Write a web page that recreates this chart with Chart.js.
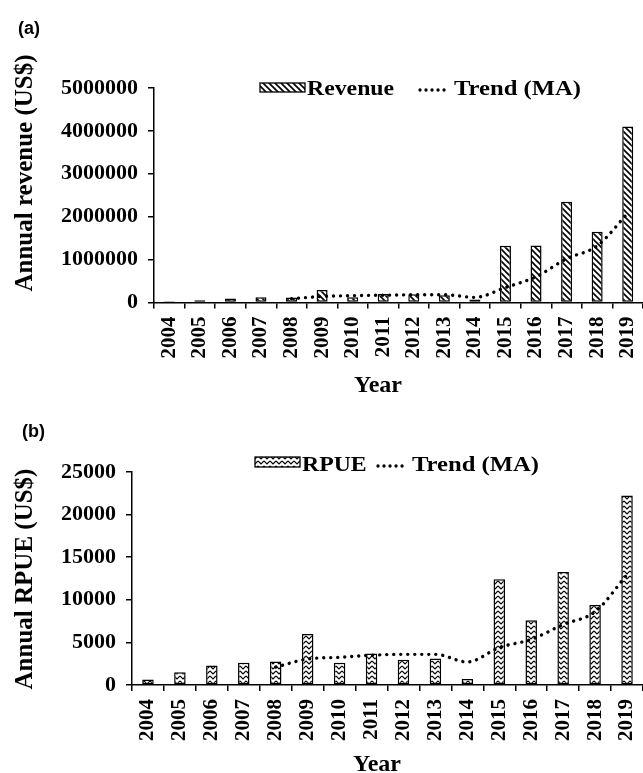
<!DOCTYPE html>
<html>
<head>
<meta charset="utf-8">
<script src="https://cdn.jsdelivr.net/npm/chart.js@4.4.1/dist/chart.umd.min.js"></script>
<style>
  html, body { margin: 0; padding: 0; background: #fff; overflow: hidden; }
  #wrap { position: relative; width: 643px; height: 773px; background: #fff; }
  .panel { position: absolute; left: 0; width: 643px; }
  .tag { position: absolute; font-family: 'Liberation Sans', Arial, sans-serif; font-weight: bold; font-size: 18px; color: #000; }
</style>
</head>
<body>
<div id="wrap">
  <div class="panel" style="top:0;height:395px;"><canvas id="chartA" width="643" height="395"></canvas></div>
  <div class="panel" style="top:395px;height:378px;"><canvas id="chartB" width="643" height="378"></canvas></div>
  <div class="tag" style="left:18px;top:18px;">(a)</div>
  <div class="tag" style="left:22px;top:421px;">(b)</div>
</div>
<script>
// ---------------- DATA ----------------
const years = ['2004','2005','2006','2007','2008','2009','2010','2011','2012','2013','2014','2015','2016','2017','2018','2019'];
const revenue = [30000, 55000, 95000, 125000, 118000, 290000, 120000, 200000, 190000, 170000, 70000, 1320000, 1330000, 2350000, 1650000, 4100000];
const revenueTrend = [null, null, null, null, 90000, 140000, 160000, 170000, 180000, 180000, 120000, 350000, 600000, 1020000, 1320000, 2080000];
const rpue = [650, 1500, 2300, 2600, 2750, 6000, 2600, 3700, 2950, 3100, 700, 12400, 7600, 13250, 9400, 22250];
const rpueTrend = [null, null, null, null, 2100, 3050, 3250, 3500, 3600, 3600, 2700, 4400, 5350, 7100, 8600, 12950];
const revenueTicks = ['0','1000000','2000000','3000000','4000000','5000000'];
const rpueTicks = ['0','5000','10000','15000','20000','25000'];

const SERIF = "'Liberation Serif', 'Times New Roman', serif";

// ---------------- PATTERNS ----------------
function diagPattern() {
  const c = document.createElement('canvas');
  c.width = 6; c.height = 6;
  const g = c.getContext('2d');
  g.fillStyle = '#fff'; g.fillRect(0, 0, 6, 6);
  g.strokeStyle = '#000'; g.lineWidth = 1.6;
  g.beginPath();
  g.moveTo(-1, -1); g.lineTo(7, 7);
  g.moveTo(5, -1); g.lineTo(7, 1);
  g.moveTo(-1, 5); g.lineTo(1, 7);
  g.stroke();
  return g.createPattern(c, 'repeat');
}
function zigPattern() {
  const c = document.createElement('canvas');
  c.width = 6; c.height = 5;
  const g = c.getContext('2d');
  g.fillStyle = '#fff'; g.fillRect(0, 0, 6, 5);
  g.strokeStyle = '#000'; g.lineWidth = 1.2;
  g.beginPath();
  g.moveTo(0, 1); g.lineTo(3, 4); g.lineTo(6, 1);
  g.stroke();
  return g.createPattern(c, 'repeat');
}

// ---------------- DECORATION PLUGIN (axis titles + legend) ----------------
function decor(cfg) {
  return {
    id: 'decor',
    afterDraw(chart) {
      const ctx = chart.ctx;
      ctx.save();
      ctx.fillStyle = '#000';
      // y title
      ctx.font = 'bold 25px ' + SERIF;
      ctx.textAlign = 'center';
      ctx.textBaseline = 'middle';
      ctx.save();
      ctx.translate(cfg.yTitleX, cfg.yTitleY);
      ctx.rotate(-Math.PI / 2);
      ctx.fillText(cfg.yTitle, 0, 0);
      ctx.restore();
      // x title
      ctx.font = 'bold 24px ' + SERIF;
      ctx.textBaseline = 'alphabetic';
      ctx.fillText('Year', cfg.xTitleX, cfg.xTitleBase);
      // legend swatch
      const L = cfg.legend;
      ctx.fillStyle = cfg.pattern;
      ctx.fillRect(L.x, L.y, 45, L.h);
      ctx.strokeStyle = '#000'; ctx.lineWidth = 1.3;
      ctx.strokeRect(L.x, L.y, 45, L.h);
      ctx.fillStyle = '#000';
      ctx.font = 'bold 22px ' + SERIF;
      ctx.textAlign = 'left';
      ctx.save();
      ctx.translate(L.x + 47, L.base);
      ctx.scale(1.08, 1);
      ctx.fillText(L.label, 0, 0);
      ctx.restore();
      // dotted sample
      ctx.beginPath();
      ctx.setLineDash([0.01, 6]);
      ctx.lineCap = 'round';
      ctx.lineWidth = 3.3;
      ctx.moveTo(L.dotX, L.base - 5);
      ctx.lineTo(L.dotX + 30, L.base - 5);
      ctx.stroke();
      ctx.setLineDash([]);
      ctx.save();
      ctx.translate(L.dotX + 34, L.base);
      ctx.scale(1.12, 1);
      ctx.fillText('Trend (MA)', 0, 0);
      ctx.restore();
      ctx.restore();
    }
  };
}

function makeChart(id, opts) {
  const pattern = opts.patternFn();
  return new Chart(document.getElementById(id), {
    type: 'bar',
    data: {
      labels: years,
      datasets: [
        {
          type: 'line',
          label: 'Trend (MA)',
          data: opts.trend,
          borderColor: '#000',
          borderWidth: 3.4,
          borderDash: [0.01, 7],
          borderCapStyle: 'round',
          pointRadius: 0,
          cubicInterpolationMode: 'monotone',
          fill: false,
          order: 0
        },
        {
          type: 'bar',
          label: opts.label,
          data: opts.values,
          backgroundColor: pattern,
          borderColor: '#000',
          borderWidth: 1.5,
          borderSkipped: false,
          categoryPercentage: 1,
          barPercentage: 0.36,
          order: 1
        }
      ]
    },
    options: {
      responsive: false,
      animation: false,
      devicePixelRatio: 1,
      events: [],
      layout: { padding: { top: opts.top, left: 0, right: 0, bottom: 0 } },
      plugins: { legend: { display: false }, tooltip: { enabled: false } },
      scales: {
        x: {
          offset: true,
          grid: { drawOnChartArea: false, drawTicks: true, tickLength: 6, color: '#000', lineWidth: 1.5, offset: true },
          border: { color: '#000', width: 1.5 },
          ticks: {
            autoSkip: false, maxRotation: 90, minRotation: 90, padding: 8,
            color: '#000', font: { family: SERIF, weight: 'bold', size: 21 }
          },
          afterFit(s) { s.height = opts.xHeight; s.paddingLeft = 0; s.paddingRight = 0; }
        },
        y: {
          min: 0,
          max: Number(opts.ticks[opts.ticks.length - 1]),
          afterBuildTicks(s) { s.ticks = opts.ticks.map(v => ({ value: Number(v) })); },
          grid: { drawOnChartArea: false, drawTicks: true, tickLength: 6, color: '#000', lineWidth: 1.5 },
          border: { color: '#000', width: 1.5 },
          ticks: {
            padding: 10, color: '#000',
            font: { family: SERIF, weight: 'bold', size: 22 },
            callback: (v) => String(v)
          },
          afterFit(s) { s.width = opts.yWidth; }
        }
      }
    },
    plugins: [decor({
      yTitle: opts.yTitle, yTitleX: 26, yTitleY: opts.yTitleY,
      xTitleX: opts.xTitleX, xTitleBase: opts.xTitleBase,
      pattern: pattern,
      legend: opts.legend
    })]
  });
}

makeChart('chartA', {
  patternFn: diagPattern,
  label: 'Revenue',
  values: revenue,
  trend: revenueTrend,
  ticks: revenueTicks,
  top: 88,
  xHeight: 92.5,
  yWidth: 154,
  yTitle: 'Annual revenue (US$)',
  yTitleY: 173,
  xTitleX: 378,
  xTitleBase: 392,
  legend: { x: 260, y: 83, h: 9, base: 95, label: 'Revenue', dotX: 420 }
});

makeChart('chartB', {
  patternFn: zigPattern,
  label: 'RPUE',
  values: rpue,
  trend: rpueTrend,
  ticks: rpueTicks,
  top: 77,
  xHeight: 88,
  yWidth: 132,
  yTitle: 'Annual RPUE (US$)',
  yTitleY: 184,
  xTitleX: 377,
  xTitleBase: 376,
  legend: { x: 255, y: 62, h: 10, base: 76, label: 'RPUE', dotX: 378 }
});
</script>
</body>
</html>
